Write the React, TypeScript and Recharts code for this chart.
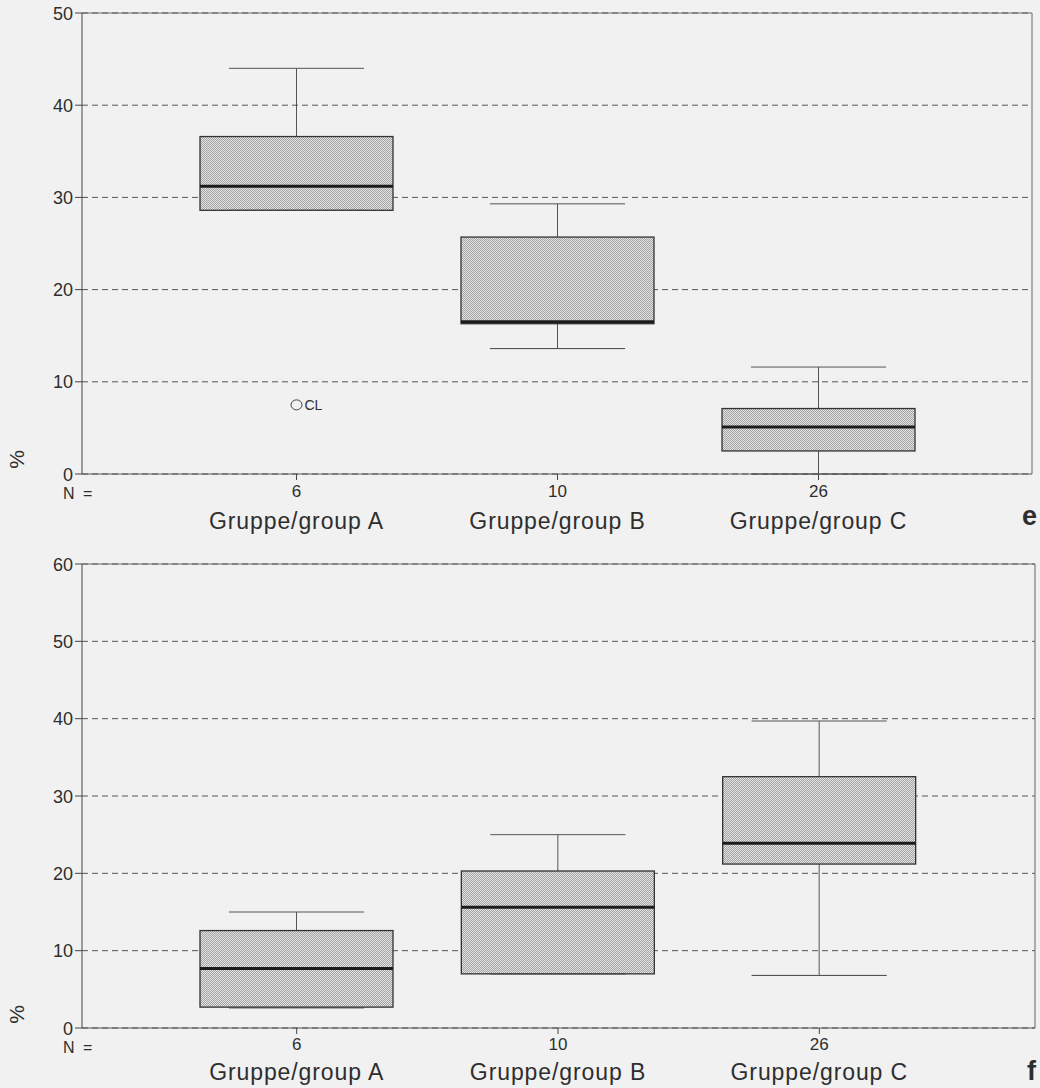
import { Bar, CartesianGrid, ComposedChart, Scatter, XAxis, YAxis } from "recharts";

const groups = ["Gruppe/group A", "Gruppe/group B", "Gruppe/group C"];
const counts = [6, 10, 26];

// panel e
const eMin = [28.6, 13.6, 0];
const eQ1 = [28.6, 16.3, 2.5];
const eMedian = [31.2, 16.5, 5.1];
const eQ3 = [36.6, 25.7, 7.1];
const eMax = [44.0, 29.3, 11.6];
const eOutliers = [7.5, null, null];
const eOutlierLabels = ["CL", "", ""];
const eTicks = [0, 10, 20, 30, 40, 50];

// panel f
const fMin = [2.6, 7.0, 6.8];
const fQ1 = [2.7, 7.0, 21.2];
const fMedian = [7.7, 15.6, 23.9];
const fQ3 = [12.6, 20.3, 32.5];
const fMax = [15.0, 25.0, 39.7];
const fTicks = [0, 10, 20, 30, 40, 50, 60];

const FONT = "'Liberation Sans', Arial, Helvetica, sans-serif";
const INK = "#2e2e2e";

type Row = {
  name: string;
  n: number;
  min: number;
  q1: number;
  median: number;
  q3: number;
  max: number;
  out: number | null;
  outLabel: string;
};

function buildRows(
  min: number[],
  q1: number[],
  median: number[],
  q3: number[],
  max: number[],
  out: (number | null)[] = [null, null, null],
  outLabel: string[] = ["", "", ""]
): Row[] {
  return groups.map((name, i) => ({
    name,
    n: counts[i],
    min: min[i],
    q1: q1[i],
    median: median[i],
    q3: q3[i],
    max: max[i],
    out: out[i],
    outLabel: outLabel[i],
  }));
}

const eRows = buildRows(eMin, eQ1, eMedian, eQ3, eMax, eOutliers, eOutlierLabels);
const fRows = buildRows(fMin, fQ1, fMedian, fQ3, fMax);

function BoxShape(props: any) {
  const { x, y, width, height, payload } = props;
  const top = Math.min(y, y + height);
  const h = Math.abs(height);
  const k = h / (payload.q3 - payload.q1);
  const cx = x + width / 2;
  const cap = width * 0.35;
  const yMed = top + (payload.q3 - payload.median) * k;
  const yMax = top - (payload.max - payload.q3) * k;
  const yMin = top + h + (payload.q1 - payload.min) * k;
  return (
    <g>
      <defs>
        <pattern id="dots" width={2} height={2} patternUnits="userSpaceOnUse">
          <rect width={2} height={2} fill="#e4e4e4" />
          <rect width={1} height={1} fill="#a2a2a2" />
          <rect x={1} y={1} width={1} height={1} fill="#a2a2a2" />
        </pattern>
      </defs>
      <line x1={cx} x2={cx} y1={yMax} y2={top} stroke="#555" />
      <line x1={cx} x2={cx} y1={top + h} y2={yMin} stroke="#555" />
      <rect x={x} y={top} width={width} height={h} fill="url(#dots)" stroke="#333" strokeWidth={1.3} />
      <line x1={cx - cap} x2={cx + cap} y1={yMax} y2={yMax} stroke="#555" />
      <line x1={cx - cap} x2={cx + cap} y1={yMin} y2={yMin} stroke="#444" />
      <line x1={x} x2={x + width} y1={yMed} y2={yMed} stroke="#1c1c1c" strokeWidth={3} />
    </g>
  );
}

function OutlierShape(props: any) {
  const { cx, cy, payload } = props;
  if (payload == null || payload.out == null) return <g />;
  return (
    <g>
      <ellipse cx={cx} cy={cy} rx={5.5} ry={5} fill="none" stroke="#444" strokeWidth={1} />
      <text x={cx + 8} y={cy + 5} fontSize={14} fill={INK} fontFamily={FONT}>
        {payload.outLabel}
      </text>
    </g>
  );
}

function makeTick(nDy: number, labelDy: number) {
  return (props: any) => {
    const { x, y, payload } = props;
    const i = groups.indexOf(payload.value);
    return (
      <g>
        <text x={x} y={y + nDy} textAnchor="middle" fontSize={17} fill={INK} fontFamily={FONT}>
          {counts[i]}
        </text>
        <text
          x={x}
          y={y + labelDy}
          textAnchor="middle"
          fontSize={23}
          letterSpacing={0.9}
          fill={INK}
          fontFamily={FONT}
        >
          {groups[i]}
        </text>
      </g>
    );
  };
}

function YTick(props: any) {
  const { x, y, payload } = props;
  return (
    <text x={x} y={y} dy={6.5} textAnchor="end" fontSize={18} fill={INK} fontFamily={FONT}>
      {payload.value}
    </text>
  );
}

function Panel(props: {
  rows: Row[];
  ticks: number[];
  height: number;
  top: number;
  right: number;
  axisHeight: number;
  nDy: number;
  labelDy: number;
  padRight: number;
}) {
  const { rows, ticks, height, top, right, axisHeight, nDy, labelDy, padRight } = props;
  const maxTick = ticks[ticks.length - 1];
  return (
    <ComposedChart
      width={1040}
      height={height}
      data={rows}
      margin={{ top, right, left: 0, bottom: 0 }}
    >
      <CartesianGrid vertical={false} stroke="#555" strokeDasharray="6 4" />
      <CartesianGrid
        stroke="#666"
        horizontalCoordinatesGenerator={({ offset }: any) => [offset.top]}
        verticalCoordinatesGenerator={({ offset }: any) => [offset.left + offset.width]}
      />
      <XAxis
        dataKey="name"
        type="category"
        padding={{ left: 84, right: padRight }}
        height={axisHeight}
        axisLine={{ stroke: "#555" }}
        tickLine={{ stroke: "#444" }}
        tickSize={6}
        interval={0}
        tick={makeTick(nDy, labelDy)}
      />
      <YAxis
        width={82}
        domain={[0, maxTick]}
        ticks={ticks}
        interval={0}
        axisLine={{ stroke: "#444" }}
        tickLine={{ stroke: "#444" }}
        tickSize={7}
        tick={YTick}
      />
      <Bar
        dataKey={(d: Row) => [d.q1, d.q3]}
        barSize={193}
        shape={BoxShape}
        isAnimationActive={false}
      />
      <Scatter dataKey="out" shape={OutlierShape} isAnimationActive={false} />
    </ComposedChart>
  );
}

const textStyle = { position: "absolute" as const, color: INK, fontFamily: FONT, lineHeight: 1 };

export default function App() {
  return (
    <div
      style={{
        position: "absolute",
        left: 0,
        top: 0,
        width: 1040,
        height: 1088,
        background: "#f1f1f1",
        overflow: "hidden",
      }}
    >
      <div style={{ position: "absolute", left: 0, top: 0 }}>
        <Panel rows={eRows} ticks={eTicks} height={545} top={13} right={8} axisHeight={71} nDy={15} labelDy={47} padRight={83} />
      </div>
      <div style={{ position: "absolute", left: 0, top: 545 }}>
        <Panel rows={fRows} ticks={fTicks} height={543} top={19} right={5} axisHeight={60} nDy={14} labelDy={44} padRight={85} />
      </div>

      <div style={{ ...textStyle, left: 7, top: 449, fontSize: 21, transform: "rotate(-90deg)" }}>%</div>
      <div style={{ ...textStyle, left: 63, top: 486, fontSize: 16, wordSpacing: 4 }}>N =</div>
      <div style={{ ...textStyle, left: 1022, top: 503, fontSize: 27, fontWeight: 700 }}>e</div>

      <div style={{ ...textStyle, left: 7, top: 1004, fontSize: 21, transform: "rotate(-90deg)" }}>%</div>
      <div style={{ ...textStyle, left: 63, top: 1040, fontSize: 16, wordSpacing: 4 }}>N =</div>
      <div style={{ ...textStyle, left: 1027, top: 1058, fontSize: 27, fontWeight: 700 }}>f</div>
    </div>
  );
}
